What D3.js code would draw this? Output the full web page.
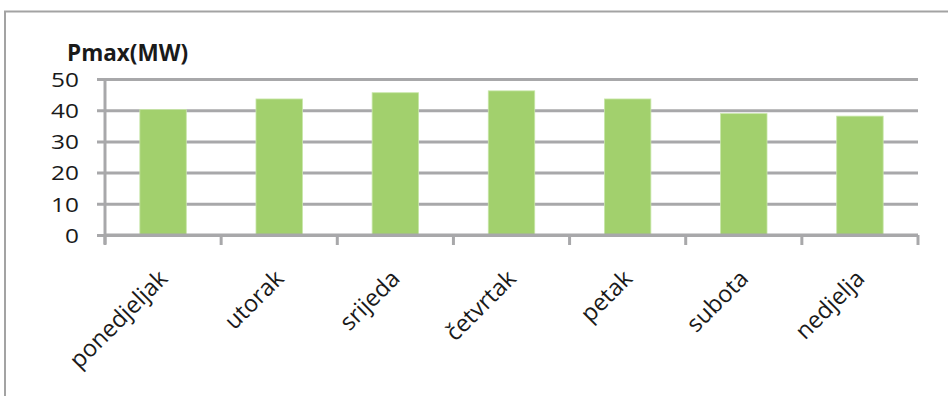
<!DOCTYPE html>
<html>
<head>
<meta charset="utf-8">
<script src="https://cdn.jsdelivr.net/npm/d3@7"></script>
<style>
  html, body { margin: 0; padding: 0; background: #fff; }
  svg { display: block; }
  text { font-family: "Open Sans", "Noto Sans", sans-serif; fill: #1a1a1a; }
</style>
</head>
<body>
<svg id="chart" width="948" height="396"></svg>
<script>
// Daily peak load, Pmax in MW
const days = ["ponedjeljak", "utorak", "srijeda", "četvrtak", "petak", "subota", "nedjelja"];
const pmax = [40.2, 43.6, 45.6, 46.2, 43.6, 38.9, 38.1];
const yTicks = [0, 10, 20, 30, 40, 50];

const svg = d3.select("#chart");
const margin = { left: 105, right: 30, top: 79, bottom: 161 };
const W = 948, H = 396;
const x0 = margin.left, x1 = W - margin.right;
const y0 = H - margin.bottom, y1 = margin.top;

// chart area frame (left and top edges)
svg.append("path")
  .attr("d", `M5,${H} L5,11.5 L${W},11.5`)
  .attr("fill", "none")
  .attr("stroke", "#a3a3a3")
  .attr("stroke-width", 2);

const x = d3.scaleBand().domain(days).range([x0, x1]).paddingInner(0.6).paddingOuter(0.3);
const xCat = d3.scaleBand().domain(days).range([x0, x1]);
const y = d3.scaleLinear().domain([0, 50]).range([y0, y1]);

// horizontal gridlines + y ticks
const yAxis = d3.axisLeft(y).tickValues(yTicks).tickSize(-(x1 - x0)).tickPadding(18);
const gy = svg.append("g").attr("transform", `translate(${x0},0)`).call(yAxis);
gy.select(".domain").remove();
gy.selectAll(".tick line")
  .attr("x1", -8)
  .attr("stroke", "#a8a8aa")
  .attr("stroke-width", 3);
gy.selectAll(".tick text")
  .attr("x", null)
  .attr("dy", "0.36em")
  .attr("transform", "translate(-26,0) scale(1.22,1)")
  .attr("font-size", 20)
  .attr("fill", "#1a1a1a");

// y axis line
svg.append("line")
  .attr("x1", x0).attr("x2", x0).attr("y1", y1).attr("y2", y0 + 9)
  .attr("stroke", "#a8a8aa").attr("stroke-width", 3);

// bars
svg.append("g").selectAll("rect").data(days).join("rect")
  .attr("x", d => x(d))
  .attr("width", x.bandwidth())
  .attr("y", (d, i) => y(pmax[i]))
  .attr("height", (d, i) => y0 - y(pmax[i]))
  .attr("fill", "#a2d06d")
  .attr("stroke", "#c8e6a8")
  .attr("stroke-width", 0.8);

// category axis with boundary ticks
svg.append("line")
  .attr("x1", x0).attr("x2", x1).attr("y1", y0).attr("y2", y0)
  .attr("stroke", "#a8a8aa").attr("stroke-width", 3);
const bounds = d3.range(days.length + 1).map(i => x0 + i * xCat.step());
svg.append("g").selectAll("line").data(bounds).join("line")
  .attr("x1", d => d).attr("x2", d => d)
  .attr("y1", y0).attr("y2", y0 + 10)
  .attr("stroke", "#a8a8aa").attr("stroke-width", 3);

// rotated category labels
svg.append("g").selectAll("text").data(days).join("text")
  .attr("transform", d => `translate(${xCat(d) + xCat.bandwidth() / 2 + 6},${y0 + 45}) rotate(-45)`)
  .attr("text-anchor", "end")
  .attr("font-size", 23.5)
  .text(d => d);

// axis title
svg.append("text")
  .attr("x", 67).attr("y", 61)
  .attr("font-size", 22.5)
  .attr("font-weight", "bold")
  .text("Pmax(MW)");
</script>
</body>
</html>
